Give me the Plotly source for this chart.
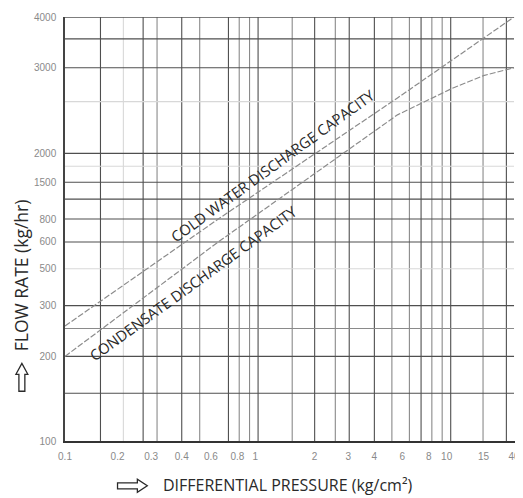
import numpy as np
import plotly.graph_objects as go

# ---------------- data ----------------
# x axis tick labels (kg/cm2)
PRESSURE_TICKS = [0.1, 0.2, 0.3, 0.4, 0.6, 0.8, 1, 2, 3, 4, 6, 8, 10, 15, 40]
PRESSURE_TICK_TEXT = ["0.1", "0.2", "0.3", "0.4", "0.6", "0.8", "1", "2", "3", "4", "6", "8", "10", "15", "40"]
# y axis tick labels (kg/hr)
FLOW_TICKS = [100, 200, 300, 500, 600, 800, 1500, 2000, 3000, 4000]
FLOW_TICK_TEXT = ["100", "200", "300", "500", "600", "800", "1500", "2000", "3000", "4000"]

# cold water discharge capacity
COLD_PRESSURE = [0.1, 0.65, 5.6, 40]
COLD_FLOW = [255, 800, 2600, 4000]
# condensate discharge capacity
COND_PRESSURE = [0.1, 0.65, 5.6, 7.8, 10.6, 15, 40]
COND_FLOW = [200, 600, 2400, 2570, 2720, 2890, 3000]

# ---------------- printed (non-uniform) scale of the chart ----------------
# fraction of the axis length at which each tick label value is printed
X_SCALE_FRAC = [0.0, 0.117, 0.192, 0.260, 0.325, 0.384, 0.424, 0.556, 0.631,
                0.689, 0.751, 0.810, 0.850, 0.932, 1.0]
Y_SCALE_FRAC = [0.0, 0.1995, 0.3192, 0.4061, 0.4695, 0.5235, 0.6103, 0.6784, 0.8803, 1.0]

# grid lines of the printed chart (fraction of axis) with their strength
X_GRID = [0.079, 0.130, 0.174, 0.205, 0.260, 0.300, 0.364, 0.388, 0.411, 0.430,
          0.506, 0.556, 0.602, 0.633, 0.689, 0.728, 0.767, 0.793, 0.817, 0.840,
          0.859, 0.931, 0.983]
X_GRID_KIND = ["d", "f", "d", "m", "d", "m", "d", "m", "m", "d",
               "m", "d", "m", "d", "d", "m", "m", "d", "m", "m",
               "d", "m", "d"]
Y_GRID = [1.0, 0.9484, 0.8803, 0.8005, 0.6784, 0.6479, 0.6103, 0.5704, 0.5235,
          0.4695, 0.4061, 0.3192, 0.2653, 0.1995, 0.1127]
Y_GRID_KIND = ["d", "d", "d", "f", "d", "f", "d", "d", "d",
               "d", "f", "d", "m", "d", "d"]
GRID_COLOR = {"d": "#4f4f4f", "m": "#8a8a8a", "f": "#d8d8d8"}


def sx(v):
    return np.interp(np.log10(v), np.log10(PRESSURE_TICKS), X_SCALE_FRAC)


def sy(v):
    return np.interp(np.log10(v), np.log10(FLOW_TICKS), Y_SCALE_FRAC)


# page layout (the page body adds an 8px offset)
PLOT_L, PLOT_R, PLOT_T, PLOT_B = 65, 518, 15, 441
X_END = 1 + 2.0 / (PLOT_R - PLOT_L)   # axis runs 2px past the last printed value


def px(xp, yp):
    """page pixel -> paper coordinates (for decorations only)"""
    w = (PLOT_R - PLOT_L) * X_END
    return ((xp - PLOT_L) / w, (PLOT_B - yp) / (PLOT_B - PLOT_T))


def path(points):
    pts = [px(a, b) for a, b in points]
    return "M " + " L ".join(f"{a:.5f},{b:.5f}" for a, b in pts) + " Z"


fig = go.Figure()
LINE_COLOR = "#8c8c8c"
fig.add_trace(go.Scatter(x=sx(COLD_PRESSURE), y=sy(COLD_FLOW), mode="lines",
                         line=dict(color=LINE_COLOR, width=1.2, dash="6px,2px"),
                         name="Cold water discharge capacity", hoverinfo="skip",
                         cliponaxis=False))
fig.add_trace(go.Scatter(x=sx(COND_PRESSURE), y=sy(COND_FLOW), mode="lines",
                         line=dict(color=LINE_COLOR, width=1.2, dash="6px,2px"),
                         name="Condensate discharge capacity", hoverinfo="skip"))

shapes = []
for g, k in zip(X_GRID, X_GRID_KIND):
    shapes.append(dict(type="line", xref="x", yref="y", x0=g, x1=g, y0=0, y1=1,
                       line=dict(color=GRID_COLOR[k], width=1.1), layer="below"))
for g, k in zip(Y_GRID, Y_GRID_KIND):
    shapes.append(dict(type="line", xref="x", yref="y", x0=0, x1=1, y0=g, y1=g,
                       line=dict(color=GRID_COLOR[k], width=1.1), layer="below"))
shapes.append(dict(type="line", xref="x", yref="y", x0=0, x1=1, y0=1, y1=1,
                   line=dict(color="#555555", width=1.2)))

TXT = "#2a2a2a"
# hollow arrows next to the axis titles
shapes.append(dict(type="path", xref="paper", yref="paper",
                   path=path([(118, 483), (138, 483), (138, 479.5), (148, 486),
                              (138, 492.5), (138, 489), (118, 489)]),
                   line=dict(color=TXT, width=1.3), fillcolor="white"))
shapes.append(dict(type="path", xref="paper", yref="paper",
                   path=path([(18.5, 391), (18.5, 374), (15.5, 374), (21.5, 363),
                              (27.5, 374), (24.5, 374), (24.5, 391)]),
                   line=dict(color=TXT, width=1.3), fillcolor="white"))

cold_xy = px(275, 164)
cond_xy = px(194, 282)
xt_xy = px(289, 485)
yt_xy = px(20, 274)
annotations = [
    dict(text="COLD WATER DISCHARGE CAPACITY", xref="paper", yref="paper",
         x=cold_xy[0], y=cold_xy[1], textangle=-36, showarrow=False,
         xanchor="center", yanchor="middle",
         font=dict(family="Open Sans", size=14.8, color=TXT)),
    dict(text="CONDENSATE DISCHARGE CAPACITY", xref="paper", yref="paper",
         x=cond_xy[0], y=cond_xy[1], textangle=-36, showarrow=False,
         xanchor="center", yanchor="middle",
         font=dict(family="Open Sans", size=14.8, color=TXT)),
    dict(text="DIFFERENTIAL PRESSURE (kg/cm²)", xref="paper", yref="paper",
         x=xt_xy[0], y=xt_xy[1], showarrow=False,
         xanchor="center", yanchor="middle",
         font=dict(family="Open Sans", size=16, color=TXT)),
    dict(text="FLOW RATE (kg/hr)", xref="paper", yref="paper",
         x=yt_xy[0], y=yt_xy[1], textangle=-90, showarrow=False,
         xanchor="center", yanchor="middle",
         font=dict(family="Open Sans", size=17.5, color=TXT)),
]

TICKFONT = dict(family="Liberation Sans", size=10, color="#8a8a8a")
fig.update_layout(
    width=515, height=490,
    margin=dict(l=57, r=3, t=7, b=57),
    paper_bgcolor="white", plot_bgcolor="white",
    showlegend=False,
    shapes=shapes,
    annotations=annotations,
    xaxis=dict(range=[0, X_END], tickmode="array", tickvals=sx(PRESSURE_TICKS),
               ticktext=PRESSURE_TICK_TEXT, showgrid=False, zeroline=False,
               showline=True, linecolor="#333333", linewidth=2, ticks="",
               tickangle=0, tickfont=TICKFONT, ticklabelstandoff=5,
               ticklabeloverflow="allow", fixedrange=True),
    yaxis=dict(range=[0, 1], tickmode="array", tickvals=sy(FLOW_TICKS),
               ticktext=FLOW_TICK_TEXT, showgrid=False, zeroline=False,
               showline=True, linecolor="#444444", linewidth=1.5, ticks="",
               tickfont=TICKFONT, ticklabelstandoff=5,
               ticklabeloverflow="allow", fixedrange=True),
)

fig.write_html("out.html")
